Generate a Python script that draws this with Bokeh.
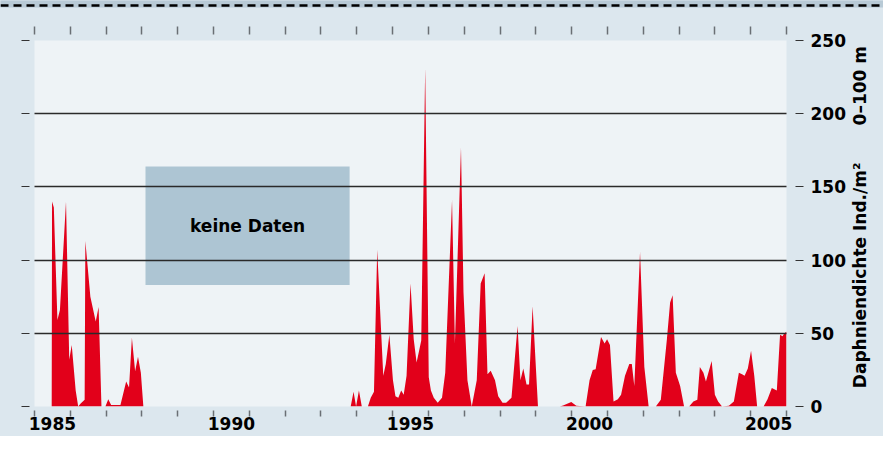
import math
from bokeh.plotting import figure
from bokeh.layouts import column
from bokeh.models import Range1d, LinearAxis, FixedTicker, Grid, Label, Span
from bokeh.embed import file_html
from bokeh.resources import INLINE

# ---------------- data ----------------
# 1985-1988 series (decimal years, individuals/m2)
years_a = [1985.48, 1985.49, 1985.54, 1985.64, 1985.71, 1985.88, 1985.97, 1986.04,
           1986.15, 1986.22, 1986.29, 1986.40, 1986.42, 1986.56, 1986.71, 1986.79,
           1986.87, 1986.98, 1987.06, 1987.14, 1987.40, 1987.56, 1987.64, 1987.72,
           1987.81, 1987.89, 1987.97, 1988.04]
dens_a = [0, 140, 136, 59, 66, 140, 32, 42,
          11, 0, 2, 4.6, 113, 75, 58, 68,
          0, 0, 5, 1, 1, 17, 13, 47,
          24, 34, 23, 0]

# 1993-2005 series
years_b = [1993.83, 1993.91, 1993.98, 1994.06, 1994.14, 1994.31, 1994.39, 1994.48,
           1994.57, 1994.74, 1994.81, 1994.91, 1995.01, 1995.08, 1995.16, 1995.24,
           1995.31, 1995.39, 1995.50, 1995.59, 1995.67, 1995.74, 1995.80, 1995.91,
           1996.01, 1996.07, 1996.15, 1996.26, 1996.38, 1996.47, 1996.66, 1996.74,
           1996.91, 1996.98, 1997.09, 1997.21, 1997.35, 1997.46, 1997.57, 1997.65,
           1997.74, 1997.86, 1997.95, 1998.07, 1998.17, 1998.32, 1998.49, 1998.57,
           1998.65, 1998.74, 1998.81, 1998.91, 1999.06, 1999.67, 1999.76, 1999.99,
           2000.13, 2000.39, 2000.50, 2000.59, 2000.67, 2000.82, 2000.92, 2000.99,
           2001.07, 2001.17, 2001.29, 2001.38, 2001.49, 2001.61, 2001.68, 2001.75,
           2001.91, 2002.03, 2002.15, 2002.35, 2002.49, 2002.66, 2002.75, 2002.82,
           2002.91, 2003.03, 2003.14, 2003.28, 2003.40, 2003.51, 2003.58, 2003.68,
           2003.75, 2003.91, 2004.00, 2004.09, 2004.20, 2004.39, 2004.53, 2004.67,
           2004.76, 2004.83, 2004.92, 2005.01, 2005.10, 2005.18, 2005.36, 2005.47,
           2005.59, 2005.73, 2005.82, 2005.89, 2005.94, 2006.00]
dens_b = [0, 10, 0, 11, 0, 0, 6, 10,
          107, 21, 29, 49, 18, 7, 6, 11,
          8, 21, 84, 46, 30, 38, 45, 231,
          20, 11, 6, 2.5, 6, 23, 141, 43,
          177, 78, 18, 0, 18, 84, 91, 22,
          24.5, 18, 7, 2.5, 2.5, 6, 55, 18,
          26, 15, 15, 68.5, 0, 0, 0.7, 3,
          0.5, 0, 18, 25, 25.5, 47.5, 43, 46,
          42, 3.5, 5, 8, 21, 29, 29, 14,
          105.5, 27, 0, 0, 4.6, 46, 71, 76,
          23, 14, 0, 0, 3.5, 4.6, 27, 23,
          17, 31, 8, 3.5, 0, 0.5, 3.5, 23,
          22, 21, 26, 38, 21, 0, 0, 5,
          12.6, 11, 49, 48, 50, 51]

# "keine Daten" box (years / density)
nodata_x = [1988.1, 1993.8]
nodata_y = [83, 164]
nodata_text = "keine Daten"

year_ticks = list(range(1985, 2007))
label_years = [1985, 1990, 1995, 2000, 2005]
label_texts = ["1985", "1990", "1995", "2000", "2005"]
y_ticks = [0, 50, 100, 150, 200, 250]
grid_values = [50, 100, 150, 200]
title_texts = ["Daphniendichte Ind./m²", "0–100 m"]
title_pos = [12.5, 192.0]   # start of each title part along the right axis

# ---------------- styles ----------------
RED = "#e2001a"
BORDER = "#dce7ee"
PANEL = "#eef3f6"
BAND = "#b8cad6"
BOX = "#adc5d3"
FONT = "DejaVu Sans"
FS = "17px"

W = 883

# top strip: darker band with a dashed rule, then background colour
strip = figure(width=W, height=16, x_range=Range1d(0, 1), y_range=Range1d(0, 1),
               x_axis_type=None, y_axis_type=None, toolbar_location=None,
               output_backend="svg", frame_align=False,
               min_border_left=0, min_border_right=0, min_border_top=0, min_border_bottom=9,
               background_fill_color=BAND, border_fill_color=BORDER,
               outline_line_color=None)
strip.add_layout(Span(location=0.3, dimension="width", line_color="black",
                      line_width=2.5, line_dash="8 5"))

# main plot
p = figure(width=W, height=420, x_range=Range1d(1985, 2006), y_range=Range1d(0, 250),
           x_axis_type=None, y_axis_type=None, toolbar_location=None,
           output_backend="svg", frame_align=False,
           min_border_left=34, min_border_right=93, min_border_top=24, min_border_bottom=30,
           background_fill_color=PANEL, border_fill_color=BORDER,
           outline_line_color=None)

# no-data box
p.quad(left=[nodata_x[0]], right=[nodata_x[1]], bottom=[nodata_y[0]], top=[nodata_y[1]],
       fill_color=BOX, line_color=None)
p.add_layout(Label(x=(nodata_x[0] + nodata_x[1]) / 2, y=(nodata_y[0] + nodata_y[1]) / 2,
                   text=nodata_text, text_align="center", text_baseline="middle",
                   text_font=FONT, text_font_style="bold", text_font_size=FS,
                   text_color="black"))

# red areas
p.varea(x=years_a, y1=0, y2=dens_a, fill_color=RED)
p.varea(x=years_b, y1=0, y2=dens_b, fill_color=RED)

# horizontal grid lines on top
p.add_layout(Grid(dimension=1, ticker=FixedTicker(ticks=grid_values),
                  grid_line_color="#2a2a2a", grid_line_width=1.5, level="overlay"), "center")

# top ticks (years)
top = LinearAxis(ticker=FixedTicker(ticks=[], minor_ticks=year_ticks),
                 axis_line_color=None, major_tick_line_color=None,
                 minor_tick_in=-6, minor_tick_out=14,
                 minor_tick_line_color="#6a6f74", minor_tick_line_width=1.5)
p.add_layout(top, "above")

# bottom ticks (years) + year labels centred in their year
bottom = LinearAxis(ticker=FixedTicker(ticks=[y + 0.5 for y in label_years],
                                       minor_ticks=year_ticks),
                    major_label_overrides={y + 0.5: t for y, t in zip(label_years, label_texts)},
                    axis_line_color=None, major_tick_line_color=None,
                    major_tick_in=0, major_tick_out=0,
                    minor_tick_in=-4, minor_tick_out=10,
                    minor_tick_line_color="#6a6f74", minor_tick_line_width=1.5,
                    major_label_standoff=0,
                    major_label_text_font=FONT, major_label_text_font_style="bold",
                    major_label_text_font_size=FS, major_label_text_color="black")
p.add_layout(bottom, "below")

# left ticks only
left = LinearAxis(ticker=FixedTicker(ticks=[], minor_ticks=y_ticks),
                  axis_line_color=None, major_tick_line_color=None,
                  minor_tick_in=-5, minor_tick_out=13,
                  minor_tick_line_color="#333333", minor_tick_line_width=1.2)
p.add_layout(left, "left")

# right axis with labels
right = LinearAxis(ticker=FixedTicker(ticks=y_ticks),
                   axis_line_color=None,
                   major_tick_in=-9, major_tick_out=17,
                   major_tick_line_color="#333333", major_tick_line_width=1.2,
                   minor_tick_line_color=None,
                   major_label_standoff=7,
                   major_label_text_font=FONT, major_label_text_font_style="bold",
                   major_label_text_font_size=FS, major_label_text_color="black")
p.add_layout(right, "right")

# rotated axis title (reads bottom to top), as an outer right axis
title_axis = LinearAxis(ticker=FixedTicker(ticks=title_pos),
                        major_label_overrides=dict(zip(title_pos, title_texts)),
                        major_label_orientation=math.pi / 2,
                        axis_line_color=None, major_tick_line_color=None,
                        major_tick_in=0, major_tick_out=0,
                        minor_tick_line_color=None,
                        major_label_standoff=12,
                        major_label_text_font=FONT, major_label_text_font_style="bold",
                        major_label_text_font_size=FS, major_label_text_color="black")
p.add_layout(title_axis, "right")

layout = column(strip, p, spacing=0, styles={"background-color": BORDER})

open("out.html", "w").write(file_html(layout, INLINE))
